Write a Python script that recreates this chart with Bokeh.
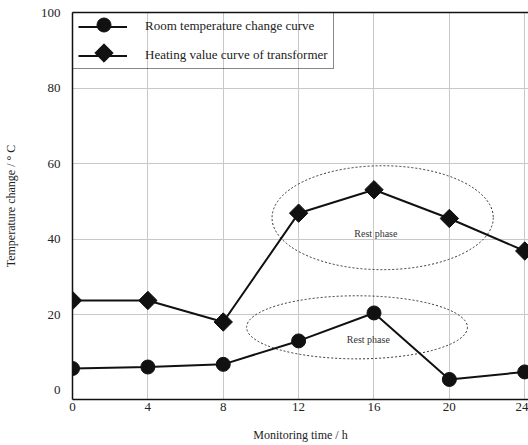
import math
from bokeh.plotting import figure
from bokeh.models import Legend, LegendItem, LinearAxis, FixedTicker, Range1d
from bokeh.core.properties import value
from bokeh.embed import file_html
from bokeh.resources import INLINE

hours = [0, 4, 8, 12, 16, 20, 24]
room_temp = [5.8, 6.2, 6.9, 13.1, 20.5, 2.9, 4.9]
heating = [23.8, 23.8, 18.1, 46.9, 53.1, 45.5, 36.9]
x_ticks = [0, 4, 8, 12, 16, 20, 24]
y_ticks = [0, 20, 40, 60, 80, 100]
series_names = ["Room temperature change curve", "Heating value curve of transformer"]
note_text = "Rest phase"

FONT = "Liberation Serif"
INK = "#111111"

# layout constants
W, H = 528, 445
B_LEFT, B_RIGHT, B_TOP, B_BOTTOM = 72, 0, 12, 46
X0, X1 = 0, 24.2
Y0, Y1 = -2.4, 100
frame_w = W - B_LEFT - B_RIGHT
frame_h = H - B_TOP - B_BOTTOM
ppu_x = frame_w / (X1 - X0)
ppu_y = frame_h / (Y1 - Y0)

p = figure(width=W, height=H, x_range=Range1d(X0, X1), y_range=Range1d(Y0, Y1),
           output_backend="svg", toolbar_location=None,
           min_border_left=B_LEFT, min_border_right=B_RIGHT,
           min_border_top=B_TOP, min_border_bottom=B_BOTTOM)
p.outline_line_color = None
p.background_fill_color = "white"

# grid
p.xgrid.ticker = FixedTicker(ticks=x_ticks)
p.ygrid.ticker = FixedTicker(ticks=y_ticks[1:])
for g in (p.xgrid, p.ygrid):
    g.grid_line_color = "#c8c8c8"
    g.grid_line_width = 1

# axes
for ax in (p.xaxis, p.yaxis):
    ax.axis_line_color = INK
    ax.axis_line_width = 1.5
    ax.major_tick_line_color = None
    ax.minor_tick_line_color = None
    ax.major_tick_in = 0
    ax.major_tick_out = 0
    ax.major_label_text_font = FONT
    ax.major_label_text_font_size = "13px"
    ax.major_label_text_color = "#222222"
    ax.axis_label_text_font = FONT
    ax.axis_label_text_font_size = "12px"
    ax.axis_label_text_font_style = "normal"
    ax.axis_label_text_color = "#222222"
p.xaxis.ticker = FixedTicker(ticks=x_ticks)
p.yaxis.ticker = FixedTicker(ticks=y_ticks)
p.xaxis.axis_label = "Monitoring time / h"
p.yaxis.axis_label = "Temperature change / ° C"
p.xaxis.major_label_standoff = 3
p.xaxis.axis_label_standoff = 14
p.yaxis.major_label_standoff = 12
p.yaxis.axis_label_standoff = 20

top_axis = LinearAxis(ticker=FixedTicker(ticks=[]), major_label_text_font_size="0px",
                      major_tick_in=0, major_tick_out=0, major_label_standoff=0,
                      axis_line_color=INK, axis_line_width=1.5)
p.add_layout(top_axis, "above")

# ellipses (annotations)
p.ellipse(x=16.46, y=45.7, width=11.74, height=27.5, fill_color=None,
          line_color="#333333", line_width=1, line_dash="2 2")
p.ellipse(x=15.1, y=16.7, width=11.72, height=16.7, fill_color=None,
          line_color="#333333", line_width=1, line_dash="2 2")
p.text(x=[16.1, 15.7], y=[41.6, 13.6], text=[note_text, note_text],
       text_font=value(FONT), text_font_size="10px", text_color="#333333",
       text_align="center", text_baseline="middle")

# series
l1 = p.line(hours, room_temp, line_color=INK, line_width=2)
p.scatter(hours, room_temp, marker="circle", size=14, fill_color=INK, line_color=INK)
l2 = p.line(hours, heating, line_color=INK, line_width=2)
p.scatter(hours, heating, marker="square", angle=math.pi / 4, size=13,
          fill_color=INK, line_color=INK)

# legend (transparent box, lines + text from Bokeh legend)
PAD, GW, GH, SP, STAND = 5, 49, 15, 13, 18
legend = Legend(items=[LegendItem(label=series_names[0], renderers=[l1]),
                       LegendItem(label=series_names[1], renderers=[l2])],
                location="top_left")
legend.margin = 0
legend.padding = PAD
legend.spacing = SP
legend.glyph_width = GW
legend.glyph_height = GH
legend.label_height = GH
legend.label_standoff = STAND
legend.border_line_color = INK
legend.border_line_width = 1.5
legend.background_fill_alpha = 0
legend.label_text_font = FONT
legend.label_text_font_size = "13px"
legend.label_text_color = "#222222"
p.add_layout(legend)

# big legend markers over the legend lines (positions derived from legend layout)
lx = X0 + (PAD + GW / 2 + 2) / ppu_x
ly1 = Y1 - (PAD + GH / 2) / ppu_y
ly2 = Y1 - (PAD + GH + SP + GH / 2) / ppu_y
p.scatter([lx], [ly1], marker="circle", size=14, fill_color=INK, line_color=INK)
p.scatter([lx], [ly2], marker="square", angle=math.pi / 4, size=13,
          fill_color=INK, line_color=INK)

open("out.html", "w").write(file_html(p, INLINE))
